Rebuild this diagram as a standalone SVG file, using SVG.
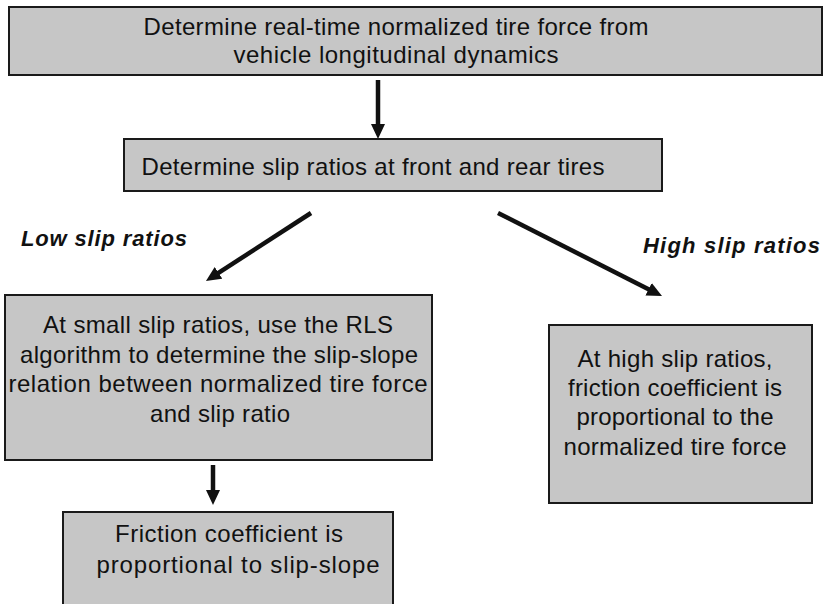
<svg xmlns="http://www.w3.org/2000/svg" width="825" height="604" viewBox="0 0 825 604">
  <style>
    .box { fill: #c6c6c6; stroke: #1a1a1a; stroke-width: 2; }
    .t { font-family: "Liberation Sans", Arial, Helvetica, sans-serif; font-size: 24px; fill: #111; text-anchor: middle; }
    .lbl { font-family: "Liberation Sans", Arial, Helvetica, sans-serif; font-size: 22px; font-weight: bold; font-style: italic; fill: #111; }
    .conn { stroke: #111; stroke-width: 4.5; fill: none; marker-end: url(#head); }
  </style>
  <defs>
    <marker id="head" markerUnits="userSpaceOnUse" markerWidth="15" markerHeight="14" viewBox="0 0 15 14" refX="1" refY="7" orient="auto">
      <path d="M0,0 L15,7 L0,14 z" fill="#111"/>
    </marker>
  </defs>
  <rect width="825" height="604" fill="#ffffff"/>

  <g id="connectors">
    <line class="conn" x1="378" y1="80" x2="378" y2="125"/>
    <line class="conn" x1="311" y1="213" x2="217.7" y2="273.4"/>
    <line class="conn" x1="498" y1="213" x2="649.5" y2="289.7"/>
    <line class="conn" x1="213" y1="465" x2="213" y2="491"/>
  </g>

  <g id="node-top">
    <rect class="box" x="9" y="7" width="813" height="68"/>
    <text class="t" x="396" y="35" textLength="505" lengthAdjust="spacing">Determine real-time normalized tire force from</text>
    <text class="t" x="396" y="63" textLength="325" lengthAdjust="spacing">vehicle longitudinal dynamics</text>
  </g>

  <g id="node-slip">
    <rect class="box" x="124" y="139" width="538" height="52"/>
    <text class="t" x="373" y="175" textLength="463" lengthAdjust="spacing">Determine slip ratios at front and rear tires</text>
  </g>

  <g id="label-low">
    <text class="lbl" x="21" y="246" textLength="166" lengthAdjust="spacing">Low slip ratios</text>
  </g>
  <g id="label-high">
    <text class="lbl" x="643" y="253" textLength="177" lengthAdjust="spacing">High slip ratios</text>
  </g>

  <g id="node-rls">
    <rect class="box" x="5" y="295" width="427" height="165"/>
    <text class="t" x="218" y="333" textLength="350" lengthAdjust="spacing">At small slip ratios, use the RLS</text>
    <text class="t" x="219" y="363" textLength="398" lengthAdjust="spacing">algorithm to determine the slip-slope</text>
    <text class="t" x="218" y="392" textLength="419" lengthAdjust="spacing">relation between normalized tire force</text>
    <text class="t" x="220" y="422" textLength="140" lengthAdjust="spacing">and slip ratio</text>
  </g>

  <g id="node-high">
    <rect class="box" x="549" y="325" width="263" height="178"/>
    <text class="t" x="675" y="367" textLength="195" lengthAdjust="spacing">At high slip ratios,</text>
    <text class="t" x="675" y="396" textLength="214" lengthAdjust="spacing">friction coefficient is</text>
    <text class="t" x="675" y="425" textLength="197" lengthAdjust="spacing">proportional to the</text>
    <text class="t" x="675" y="455" textLength="223" lengthAdjust="spacing">normalized tire force</text>
  </g>

  <g id="node-friction">
    <rect class="box" x="63" y="512" width="330" height="100"/>
    <text class="t" x="229" y="542" textLength="228" lengthAdjust="spacing">Friction coefficient is</text>
    <text class="t" x="238" y="573" textLength="283" lengthAdjust="spacing">proportional to slip-slope</text>
  </g>
</svg>
